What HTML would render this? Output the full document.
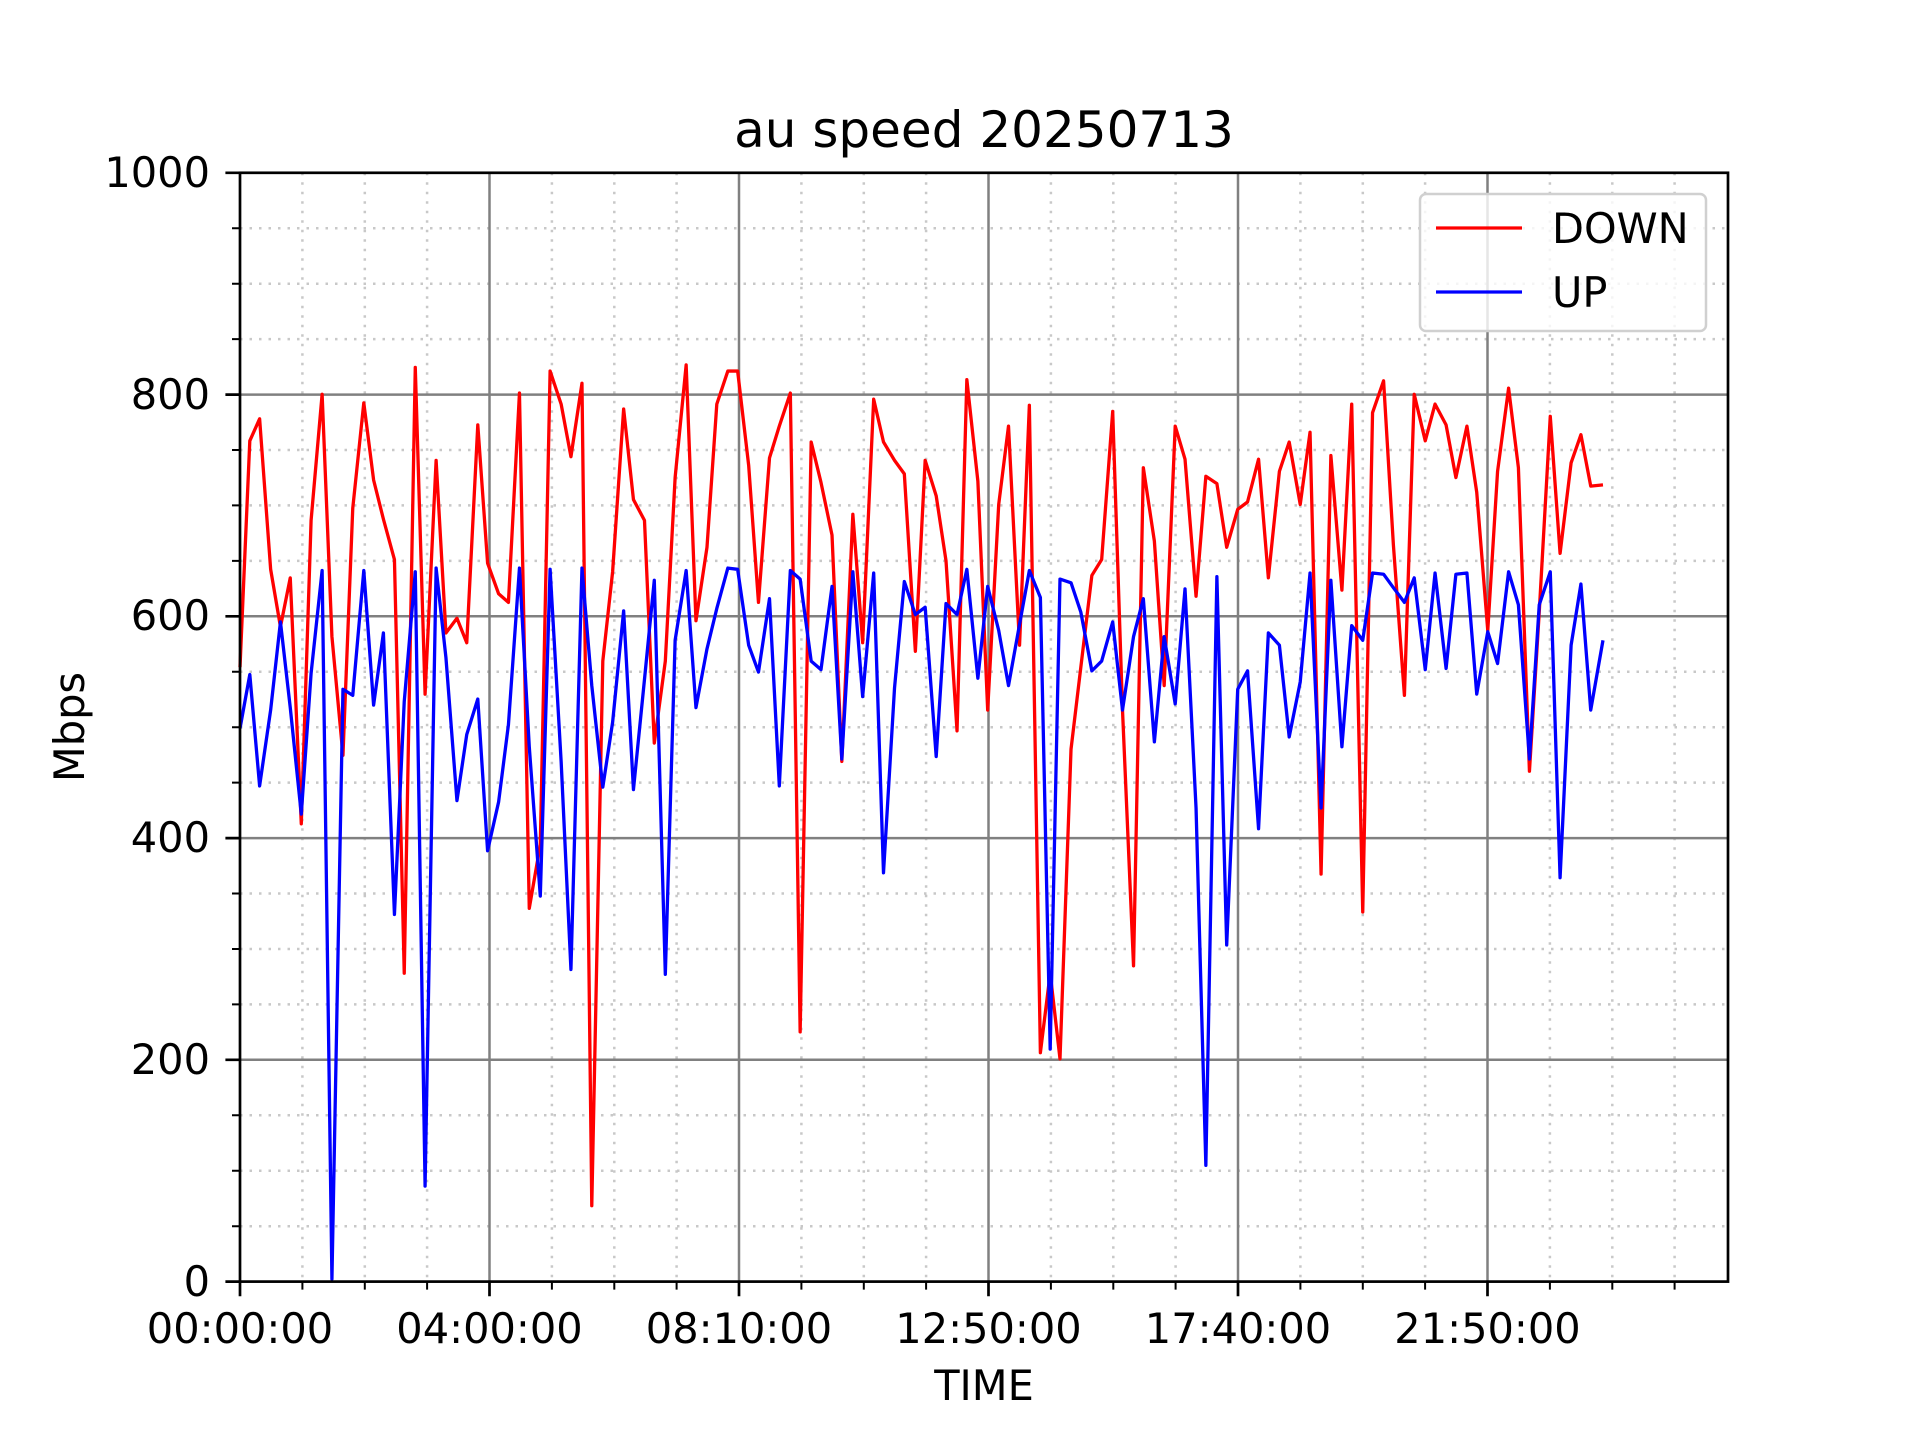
<!DOCTYPE html>
<html><head><meta charset="utf-8"><style>html,body{margin:0;padding:0;background:#fff}svg{display:block}</style></head>
<body>
<svg width="1920" height="1440" xmlns="http://www.w3.org/2000/svg" font-family="DejaVu Sans, Liberation Sans, sans-serif">
<rect width="1920" height="1440" fill="#fff"/>
<path stroke="#c8c8c8" stroke-width="2.5" stroke-dasharray="2.5,7" fill="none" d="
M302.4 172.8V1281.6M364.8 172.8V1281.6M427.1 172.8V1281.6M551.9 172.8V1281.6M614.3 172.8V1281.6M676.6 172.8V1281.6M801.4 172.8V1281.6M863.8 172.8V1281.6M926.1 172.8V1281.6M1050.9 172.8V1281.6M1113.3 172.8V1281.6M1175.6 172.8V1281.6M1300.4 172.8V1281.6M1362.8 172.8V1281.6M1425.1 172.8V1281.6M1549.9 172.8V1281.6M1612.3 172.8V1281.6M1674.6 172.8V1281.6
M240 1226.2H1728M240 1170.7H1728M240 1115.3H1728M240 1004.4H1728M240 949H1728M240 893.5H1728M240 782.6H1728M240 727.2H1728M240 671.8H1728M240 560.9H1728M240 505.4H1728M240 450H1728M240 339.1H1728M240 283.7H1728M240 228.2H1728"/>
<path stroke="#808080" stroke-width="2.5" fill="none" d="
M489.5 172.8V1281.6M739 172.8V1281.6M988.5 172.8V1281.6M1238 172.8V1281.6M1487.5 172.8V1281.6
M240 1059.8H1728M240 838.1H1728M240 616.3H1728M240 394.6H1728"/>
<g transform="matrix(1.2257,0,0,1.2238,-1.463,0.244)" fill="none" stroke-linejoin="round">
<polyline vector-effect="non-scaling-stroke" stroke="#ff0000" stroke-width="3.3" points="197,545 205,360 213,342 222,465 230,512 238,472 247,673 255,425 264,322 272,520 281,617 289,415 298,329 306,392 314,424 323,457 331,795 340,300 348,567 357,376 365,517 374,505 382,525 391,347 399,460 408,485 416,492 425,321 433,742 442,690 450,303 459,330 467,373 476,313 484,985 493,540 501,467 510,334 518,408 527,425 535,607 544,540 552,390 561,298 569,507 578,447 586,330 595,303 603,303 612,380 620,492 629,374 637,348 646,321 654,843 663,361 671,394 680,437 688,622 697,420 705,525 714,326 722,361 731,376 739,387 748,532 756,376 765,405 773,458 782,597 790,310 799,393 807,580 816,412 824,348 833,527 841,331 850,860 858,795 866,865 875,612 883,545 892,470 900,457 909,336 917,580 926,789 934,382 943,442 951,560 960,348 968,375 977,487 985,389 994,395 1002,447 1011,416 1019,410 1028,375 1036,472 1045,385 1053,361 1062,412 1070,353 1079,714 1087,372 1096,482 1104,330 1113,745 1121,337 1130,311 1138,445 1147,568 1155,322 1164,360 1172,330 1181,347 1189,390 1198,348 1206,402 1215,515 1223,385 1232,317 1240,382 1249,630 1257,500 1266,340 1274,452 1283,378 1291,355 1299,397 1309,396"/>
<polyline vector-effect="non-scaling-stroke" stroke="#0000ff" stroke-width="3.3" points="197,595 205,551 213,642 222,580 230,508 238,578 247,665 255,550 264,466 272,1045 281,563 289,568 298,466 306,576 314,517 323,747 331,573 340,467 348,969 357,464 365,537 374,654 382,600 391,571 399,695 408,655 416,592 425,464 433,610 442,732 450,465 459,622 467,792 476,464 484,560 493,643 501,590 510,499 518,645 527,555 535,474 544,796 552,523 561,466 569,578 578,530 586,497 595,464 603,465 612,527 620,549 629,489 637,642 646,466 654,473 663,540 671,547 680,479 688,620 697,467 705,569 714,468 722,713 731,562 739,475 748,502 756,496 765,618 773,493 782,502 790,465 799,554 807,479 816,515 824,560 833,510 841,466 850,488 858,857 866,473 875,476 883,500 892,548 900,540 909,508 917,580 926,520 934,489 943,606 951,520 960,575 968,481 977,660 985,952 994,471 1002,772 1011,563 1019,548 1028,677 1036,517 1045,527 1053,602 1062,557 1070,468 1079,660 1087,474 1096,610 1104,511 1113,523 1121,468 1130,469 1138,480 1147,492 1155,472 1164,547 1172,468 1181,546 1189,469 1198,468 1206,567 1215,516 1223,542 1232,467 1240,494 1249,620 1257,494 1266,467 1274,717 1283,527 1291,477 1299,580 1309,523"/>
</g>
<path stroke="#000" stroke-width="2.7" fill="none" d="
M240 1281.6v14.6M489.5 1281.6v14.6M739 1281.6v14.6M988.5 1281.6v14.6M1238 1281.6v14.6M1487.5 1281.6v14.6
M240 1281.6h-14.6M240 1059.8h-14.6M240 838.1h-14.6M240 616.3h-14.6M240 394.6h-14.6M240 172.8h-14.6"/>
<path stroke="#000" stroke-width="2" fill="none" d="
M302.4 1281.6v8M364.8 1281.6v8M427.1 1281.6v8M551.9 1281.6v8M614.3 1281.6v8M676.6 1281.6v8M801.4 1281.6v8M863.8 1281.6v8M926.1 1281.6v8M1050.9 1281.6v8M1113.3 1281.6v8M1175.6 1281.6v8M1300.4 1281.6v8M1362.8 1281.6v8M1425.1 1281.6v8M1549.9 1281.6v8M1612.3 1281.6v8M1674.6 1281.6v8
M240 1226.2h-8M240 1170.7h-8M240 1115.3h-8M240 1004.4h-8M240 949h-8M240 893.5h-8M240 782.6h-8M240 727.2h-8M240 671.8h-8M240 560.9h-8M240 505.4h-8M240 450h-8M240 339.1h-8M240 283.7h-8M240 228.2h-8"/>
<rect x="240" y="172.8" width="1488" height="1108.8" fill="none" stroke="#000" stroke-width="2.7"/>
<rect x="1420" y="194" width="286" height="137" rx="6" fill="#fff" fill-opacity="0.8" stroke="#d0d0d0" stroke-width="2.5"/>
<line x1="1436" y1="228" x2="1522" y2="228" stroke="#ff0000" stroke-width="3.3"/>
<line x1="1436" y1="292" x2="1522" y2="292" stroke="#0000ff" stroke-width="3.3"/>
<g font-size="41.5" fill="#000">
<text x="1552" y="243">DOWN</text>
<text x="1552" y="307">UP</text>
<g text-anchor="end">
<text x="210" y="1296">0</text>
<text x="210" y="1074">200</text>
<text x="210" y="852">400</text>
<text x="210" y="630">600</text>
<text x="210" y="409">800</text>
<text x="210" y="187">1000</text>
</g>
<g text-anchor="middle">
<text x="240" y="1343">00:00:00</text>
<text x="489.5" y="1343">04:00:00</text>
<text x="739" y="1343">08:10:00</text>
<text x="988.5" y="1343">12:50:00</text>
<text x="1238" y="1343">17:40:00</text>
<text x="1487.5" y="1343">21:50:00</text>
<text x="984" y="1400">TIME</text>
<text transform="translate(84,727) rotate(-90)">Mbps</text>
<text x="984" y="147" font-size="50">au speed 20250713</text>
</g>
</g>
</svg>
</body></html>
